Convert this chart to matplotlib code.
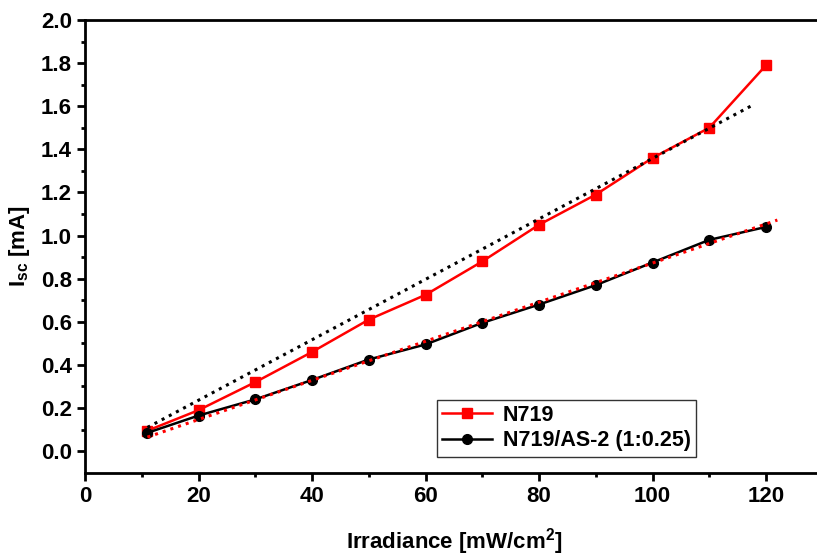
import numpy as np
import matplotlib.pyplot as plt

plt.rcParams['font.family'] = ['Liberation Sans', 'DejaVu Sans']
plt.rcParams['font.weight'] = 'bold'
plt.rcParams['mathtext.fontset'] = 'custom'
plt.rcParams['mathtext.rm'] = 'Liberation Sans:bold'
plt.rcParams['mathtext.bf'] = 'Liberation Sans:bold'
plt.rcParams['mathtext.it'] = 'Liberation Sans:bold'

# data
irradiance = [11, 20, 30, 40, 50, 60, 70, 80, 90, 100, 110, 120]
isc_n719 = [0.095, 0.19, 0.32, 0.46, 0.61, 0.725, 0.88, 1.05, 1.19, 1.36, 1.50, 1.79]
isc_mix = [0.085, 0.165, 0.24, 0.33, 0.425, 0.495, 0.595, 0.68, 0.77, 0.875, 0.98, 1.04]

# linear fit lines (end points)
fit_n719_x = [11, 118]
fit_n719_y = [0.11, 1.61]
fit_mix_x = [11, 122]
fit_mix_y = [0.065, 1.072]

fig = plt.figure(figsize=(8.17, 5.56), dpi=100)
ax = fig.add_axes([85 / 817, 1 - 472.7 / 556, 737.75 / 817, (472.7 - 20) / 556])

ax.plot(fit_n719_x, fit_n719_y, ':', color='black', lw=2.2, zorder=3)
ax.plot(fit_mix_x, fit_mix_y, ':', color='red', lw=2.2, zorder=3)
ax.plot(irradiance, isc_n719, '-s', color='red', lw=1.8, ms=7, label='N719', zorder=2)
ax.plot(irradiance, isc_mix, '-o', color='black', lw=1.8, ms=7, label='N719/AS-2 (1:0.25)', zorder=2)

ax.set_xlim(0, 130)
ax.set_ylim(-0.1, 2.0)
ax.set_xticks([0, 20, 40, 60, 80, 100, 120])
ax.set_xticks(np.arange(10, 130, 20), minor=True)
ax.set_yticks(np.arange(0, 2.01, 0.2))
ax.set_yticks(np.arange(0.1, 2.0, 0.2), minor=True)
ax.yaxis.set_major_formatter(plt.FormatStrFormatter('%.1f'))

for s in ax.spines.values():
    s.set_linewidth(2)
ax.tick_params(which='major', direction='out', length=6, width=2, labelsize=16)
ax.tick_params(which='minor', direction='out', length=3, width=2)

ax.set_xlabel('Irradiance [mW/cm$^{\\mathbf{2}}$]', fontsize=16, fontweight='bold', labelpad=14)
ax.set_ylabel('I$_{\\mathbf{sc}}$ [mA]', fontsize=16, fontweight='bold', labelpad=6)

leg = ax.legend(loc='lower left', bbox_to_anchor=(352 / 737.75, 16 / 452.7), fontsize=15.5,
                frameon=True, fancybox=False, edgecolor='black', borderpad=0.25,
                handlelength=2.3, handletextpad=0.5, labelspacing=0.2, borderaxespad=0)
leg.get_frame().set_linewidth(1)

fig.savefig('out.png', dpi=100)
